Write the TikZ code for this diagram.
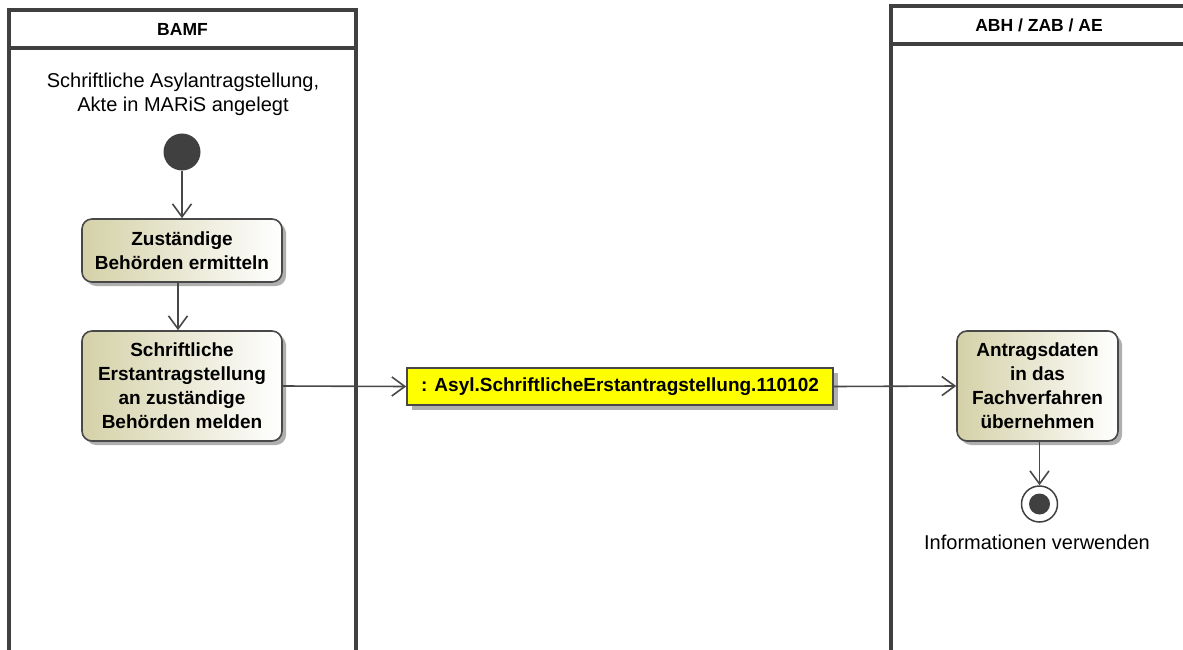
\documentclass[tikz,border=0pt]{standalone}
\usepackage{fontspec}
\setmainfont{Liberation Sans}
\usetikzlibrary{arrows.meta,shadows}
\definecolor{lanecol}{RGB}{64,64,64}
\definecolor{linecol}{RGB}{72,72,72}
\definecolor{actfill}{RGB}{212,209,168}
\definecolor{objfill}{RGB}{255,255,0}
\definecolor{shadowcol}{RGB}{175,175,175}
\tikzset{
  lane/.style={draw=lanecol, line width=3.2pt},
  action/.style={draw=linecol, line width=1.6pt, rounded corners=10pt, align=center,
    font=\bfseries\fontsize{19}{24}\selectfont, inner sep=0pt,
    left color=actfill, right color=white,
    drop shadow={shadow xshift=4pt, shadow yshift=-4pt, fill=shadowcol, opacity=1}},
  objnode/.style={draw=linecol, line width=1.6pt, fill=objfill, align=center,
    font=\bfseries\fontsize{19}{24}\selectfont, inner sep=0pt,
    drop shadow={shadow xshift=4.5pt, shadow yshift=-4.5pt, fill=shadowcol, opacity=1}},
  flow/.style={draw=linecol, line width=1.6pt, -{Straight Barb[length=13pt, width=19pt, line width=1.6pt]}},
  lbl/.style={font=\fontsize{20}{24}\selectfont, align=center, inner sep=0pt},
  hdr/.style={font=\bfseries\fontsize{17.5}{20}\selectfont, inner sep=0pt}
}
\begin{document}
\begin{tikzpicture}[x=1pt,y=-1pt]
\useasboundingbox (0,0) rectangle (1183,650);
% lanes
\draw[lane] (9,653) -- (9,10) -- (356,10) -- (356,653);
\draw[lane] (9,48) -- (356,48);
\node[hdr] (hbamf) at (182.5,29) {BAMF};
\draw[lane] (891,653) -- (891,6) -- (1188,6);
\draw[lane] (891,44) -- (1188,44);
\node[hdr] (habh) at (1039,25) {ABH / ZAB / AE};
% initial
\node[lbl] (itext) at (183,94) {Schriftliche Asylantragstellung,\\Akte in MARiS angelegt};
\node[circle, fill=lanecol, minimum size=37pt, inner sep=0pt] (init) at (182,152) {};
% actions
\node[action, minimum width=200pt, minimum height=63pt] (a1) at (182,250.5) {Zuständige\\Behörden ermitteln};
\node[action, minimum width=200pt, minimum height=110pt] (a2) at (182,386) {Schriftliche\\Erstantragstellung\\an zuständige\\Behörden melden};
\node[objnode, minimum width=426pt, minimum height=37pt] (obj) at (620,386.5) {: Asyl.SchriftlicheErstantragstellung.110102};
\node[action, minimum width=161pt, minimum height=110pt] (a3) at (1037.5,386) {Antragsdaten\\in das\\Fachverfahren\\übernehmen};
% final
\node[circle, draw=lanecol, line width=1.5pt, fill=white, minimum size=36pt, inner sep=0pt] (fin) at (1039.5,504) {};
\node[circle, fill=lanecol, minimum size=21pt, inner sep=0pt] (finin) at (fin.center) {};
\node[lbl] (ftext) at (1037,542) {Informationen verwenden};
% flows
\draw[flow] (init) -- (a1);
\draw[flow] ([xshift=-4pt]a1.south) -- ([xshift=-4pt]a2.north);
\draw[flow] (a2.east) -- (obj.west);
\draw[flow] (obj.east) -- (a3.west);
\draw[flow] (a3.south -| fin.north) -- (fin.north);
\end{tikzpicture}
\end{document}
